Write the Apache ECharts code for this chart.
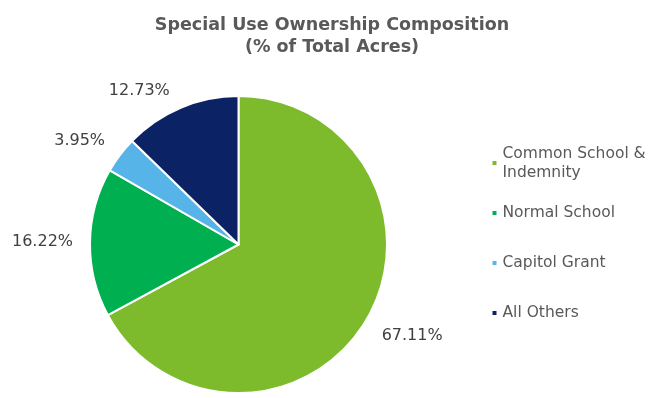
<!DOCTYPE html>
<html>
<head>
<meta charset="utf-8">
<script src="https://cdn.jsdelivr.net/npm/echarts@6/dist/echarts.min.js"></script>
<style>html,body{margin:0;padding:0;background:#fff;}#c{width:654px;height:398px;}</style>
</head>
<body>
<div id="c"></div>
<script>
const categories = ['Common School & Indemnity', 'Normal School', 'Capitol Grant', 'All Others'];
const values = [67.11, 16.22, 3.95, 12.73];
const colors = ['#7DBA2C', '#00B050', '#56B4E8', '#0B2265'];

const CX = 238.5, CY = 244.5, R = 148.5, GAP = 10, HGAP = 7;
const total = values.reduce((a, b) => a + b, 0);

const chart = echarts.init(document.getElementById('c'), null, {renderer: 'canvas'});
chart.setOption({
  backgroundColor: '#ffffff',
  animation: false,
  title: {
    text: 'Special Use Ownership Composition\n(% of Total Acres)',
    left: 327, top: 9, textAlign: 'center',
    textStyle: {fontFamily: 'DejaVu Sans', fontWeight: 'bold', fontSize: 17.5, lineHeight: 22, color: '#595959'}
  },
  legend: {
    orient: 'vertical', left: 490.5, top: 134.5, padding: 0, itemGap: -7,
    itemWidth: 6, itemHeight: 6, icon: 'rect',
    textStyle: {fontFamily: 'DejaVu Sans', fontSize: 15.5, lineHeight: 19, color: '#595959', padding: [19, 0, 19, 0]},
    formatter: n => n.replace('& ', '&\n'),
    data: categories.map((n, i) => i === 0
      ? {name: n, textStyle: {padding: [19, 0, 0, 0]}}
      : {name: n})
  },
  series: [{
    type: 'pie',
    center: [CX, CY],
    radius: R,
    startAngle: 90,
    clockwise: true,
    silent: true,
    itemStyle: {borderColor: '#ffffff', borderWidth: 2},
    label: {
      show: true, position: 'outside',
      formatter: p => p.value.toFixed(2) + '%',
      fontFamily: 'DejaVu Sans', fontSize: 16, color: '#404040'
    },
    labelLine: {show: false, length: 5, length2: 5},
    labelLayout: function (params) {
      const i = params.dataIndex;
      let cum = 0;
      for (let k = 0; k < i; k++) cum += values[k];
      const a = (cum + values[i] / 2) / total * Math.PI * 2;
      const dx = Math.sin(a), dy = -Math.cos(a);
      const px = CX + dx * (R + GAP) + Math.sign(dx) * HGAP;
      const py = CY + dy * (R + GAP);
      const w = params.labelRect.width, h = params.labelRect.height;
      const cl = v => Math.max(-1, Math.min(1, v));
      return {
        x: px + w / 2 * cl(dx * 3),
        y: py + h / 2 * cl(dy * 3) + (dy > 0.3 ? 2 : 0),
        align: 'center', verticalAlign: 'middle'
      };
    },
    data: categories.map((n, i) => ({name: n, value: values[i], itemStyle: {color: colors[i]}}))
  }]
});
</script>
</body>
</html>
